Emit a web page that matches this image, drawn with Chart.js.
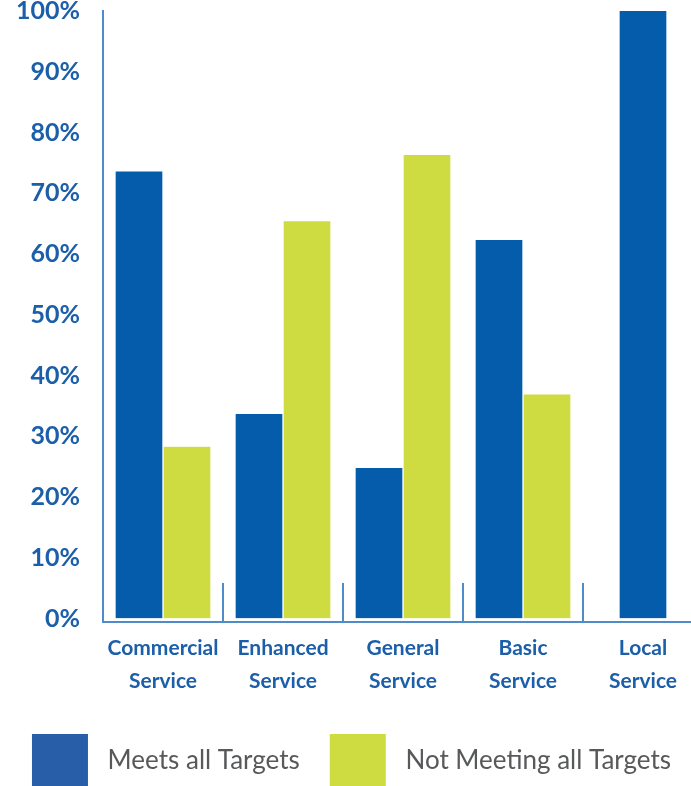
<!DOCTYPE html>
<html>
<head>
<meta charset="utf-8">
<script src="https://cdn.jsdelivr.net/npm/chart.js@4.4.1/dist/chart.umd.min.js"></script>
<style>
  html, body { margin: 0; padding: 0; background: #ffffff; width: 691px; height: 786px; overflow: hidden; }
  canvas { display: block; }
</style>
</head>
<body>
<canvas id="c" width="703" height="786"></canvas>
<script>
const categories = [
  ['Commercial', 'Service'],
  ['Enhanced', 'Service'],
  ['General', 'Service'],
  ['Basic', 'Service'],
  ['Local', 'Service']
];
const meetsAllTargets = [73.6, 33.7, 24.8, 62.3, 100];
const notMeetingAllTargets = [28.3, 65.4, 76.3, 36.9, null];
const seriesNames = ['Meets all Targets', 'Not Meeting all Targets'];
const tickValues = [0, 10, 20, 30, 40, 50, 60, 70, 80, 90, 100];
const tickLabels = ['0%', '10%', '20%', '30%', '40%', '50%', '60%', '70%', '80%', '90%', '100%'];

const BLUE = '#045cab';
const GREEN = '#cedb41';
const LEGEND_BLUE = '#285da7';
const AXIS = '#4f8bc9';
const LABEL = '#1b5ea9';
const FONT = 'Lato, "Open Sans", "DejaVu Sans", sans-serif';

const separators = {
  id: 'separators',
  afterDraw(chart) {
    const x = chart.scales.x;
    const area = chart.chartArea;
    const ctx = chart.ctx;
    ctx.save();
    ctx.strokeStyle = AXIS;
    ctx.lineWidth = 2;
    for (let i = 0; i < categories.length - 1; i++) {
      const px = (x.getPixelForValue(i) + x.getPixelForValue(i + 1)) / 2;
      ctx.beginPath();
      ctx.moveTo(px, area.bottom - 39);
      ctx.lineTo(px, area.bottom);
      ctx.stroke();
    }
    ctx.restore();
  }
};

new Chart(document.getElementById('c'), {
  type: 'bar',
  data: {
    labels: categories,
    datasets: [
      {
        label: seriesNames[0],
        data: meetsAllTargets,
        backgroundColor: BLUE,
        borderColor: '#ffffff',
        borderWidth: { left: 1, right: 1, top: 0, bottom: 0 },
        borderSkipped: false,
        skipNull: true,
        barThickness: 48
      },
      {
        label: seriesNames[1],
        data: notMeetingAllTargets,
        backgroundColor: GREEN,
        borderColor: '#ffffff',
        borderWidth: { left: 1, right: 1, top: 0, bottom: 0 },
        borderSkipped: false,
        skipNull: true,
        barThickness: 48
      }
    ]
  },
  options: {
    responsive: false,
    animation: false,
    devicePixelRatio: 1,
    layout: { padding: { top: 11, right: 0, bottom: -11, left: 0 } },
    plugins: {
      tooltip: { enabled: false },
      legend: {
        position: 'bottom',
        labels: {
          boxWidth: 56,
          boxHeight: 53,
          padding: 10,
          color: '#58595b',
          font: { family: FONT, size: 26, weight: 'normal' },
          generateLabels(chart) {
            const fills = [LEGEND_BLUE, GREEN];
            const last = chart.data.datasets.length - 1;
            return chart.data.datasets.map((ds, i) => ({
              text: ' ' + ds.label + (i < last ? '   ' : ''),
              fillStyle: fills[i],
              strokeStyle: fills[i],
              lineWidth: 0,
              fontColor: '#58595b',
              datasetIndex: i,
              hidden: false
            }));
          }
        }
      }
    },
    scales: {
      x: {
        offset: true,
        grid: { display: true, drawOnChartArea: false, drawTicks: false, color: 'rgba(0,0,0,0)' },
        border: { display: true, color: AXIS, width: 2 },
        ticks: {
          autoSkip: false,
          maxRotation: 0,
          minRotation: 0,
          padding: 10,
          color: LABEL,
          font: { family: FONT, size: 21, weight: 'bold', lineHeight: '33px' }
        },
        afterFit(scale) { scale.height = 102; }
      },
      y: {
        min: -0.55,
        max: 100,
        grid: { display: true, drawOnChartArea: false, drawTicks: true, tickLength: 23, color: 'rgba(0,0,0,0)' },
        border: { display: true, color: AXIS, width: 2 },
        afterBuildTicks(scale) {
          scale.ticks = tickValues.map(v => ({ value: v }));
        },
        ticks: {
          padding: 0,
          color: LABEL,
          font: { family: FONT, size: 25, weight: 'bold', lineHeight: 0.85 },
          callback(value, index) { return tickLabels[index]; }
        },
        afterFit(scale) { scale.width = 103; }
      }
    }
  },
  plugins: [separators]
});
</script>
</body>
</html>
